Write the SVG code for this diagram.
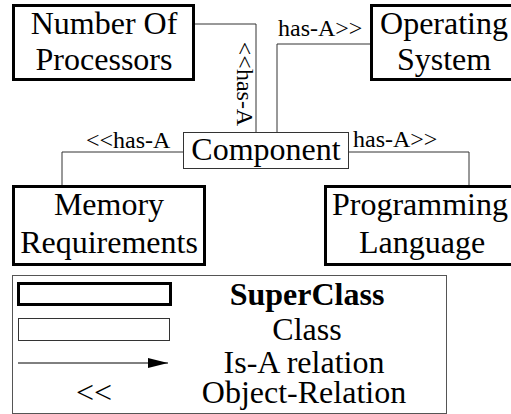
<svg xmlns="http://www.w3.org/2000/svg" width="511" height="414" viewBox="0 0 511 414" font-family="'Liberation Serif', Tinos, 'DejaVu Serif', serif">
<style>
text{font-family:'Liberation Serif',Tinos,'DejaVu Serif',serif;fill:#000}
.big{font-size:32px;text-anchor:middle}
.lbl{font-size:24px}
.sup{fill:#fff;stroke:#000;stroke-width:3}
.cls{fill:#fff;stroke:#333;stroke-width:1}
.con{fill:none;stroke:#333;stroke-width:1}
</style>
<defs>
<marker id="arr" markerWidth="20" markerHeight="10" refX="20" refY="5" orient="auto" markerUnits="userSpaceOnUse">
<path d="M0,0 L20,5 L0,10 Z" fill="#000"/>
</marker>
</defs>
<rect width="511" height="414" fill="#fff"/>
<g id="connectors">
<path class="con" d="M194,24 H256 V132"/>
<path class="con" d="M370,44 H277 V132"/>
<path class="con" d="M183,152 H62 V186"/>
<path class="con" d="M349,152 H469 V186"/>
<text class="lbl" transform="translate(237,84) rotate(90)" text-anchor="middle">&lt;&lt;has-A</text>
<text class="lbl" x="278" y="36">has-A&gt;&gt;</text>
<text class="lbl" x="86" y="148">&lt;&lt;has-A</text>
<text class="lbl" x="353" y="147">has-A&gt;&gt;</text>
</g>
<g id="number-of-processors">
<rect class="sup" x="13.5" y="5.5" width="180" height="74"/>
<text class="big" x="104" y="34">Number Of</text>
<text class="big" x="104" y="70">Processors</text>
</g>
<g id="operating-system">
<rect class="sup" x="371.5" y="5.5" width="145" height="74"/>
<text class="big" x="444" y="34">Operating</text>
<text class="big" x="444" y="70">System</text>
</g>
<g id="component">
<rect class="cls" x="183.5" y="132.5" width="165" height="36"/>
<text class="big" x="266" y="160">Component</text>
</g>
<g id="memory-requirements">
<rect class="sup" x="13.5" y="186.5" width="191" height="78"/>
<text class="big" x="109" y="215">Memory</text>
<text class="big" x="109" y="253">Requirements</text>
</g>
<g id="programming-language">
<rect class="sup" x="325.5" y="186.5" width="190" height="78"/>
<text class="big" x="420" y="215">Programming</text>
<text class="big" x="422" y="253">Language</text>
</g>
<g id="legend">
<rect x="12.5" y="275.5" width="434" height="138" fill="#fff" stroke="#555" stroke-width="1"/>
<rect class="sup" x="18.5" y="283.5" width="152" height="21"/>
<text class="big" x="307" y="305" font-weight="bold">SuperClass</text>
<rect class="cls" x="18.5" y="318.5" width="151" height="22"/>
<text class="big" x="307" y="340">Class</text>
<line x1="18" y1="363" x2="168" y2="363" stroke="#000" stroke-width="1" marker-end="url(#arr)"/>
<text class="big" x="304" y="373">Is-A relation</text>
<text class="big" x="94" y="403">&lt;&lt;</text>
<text class="big" x="304" y="403">Object-Relation</text>
</g>
</svg>
